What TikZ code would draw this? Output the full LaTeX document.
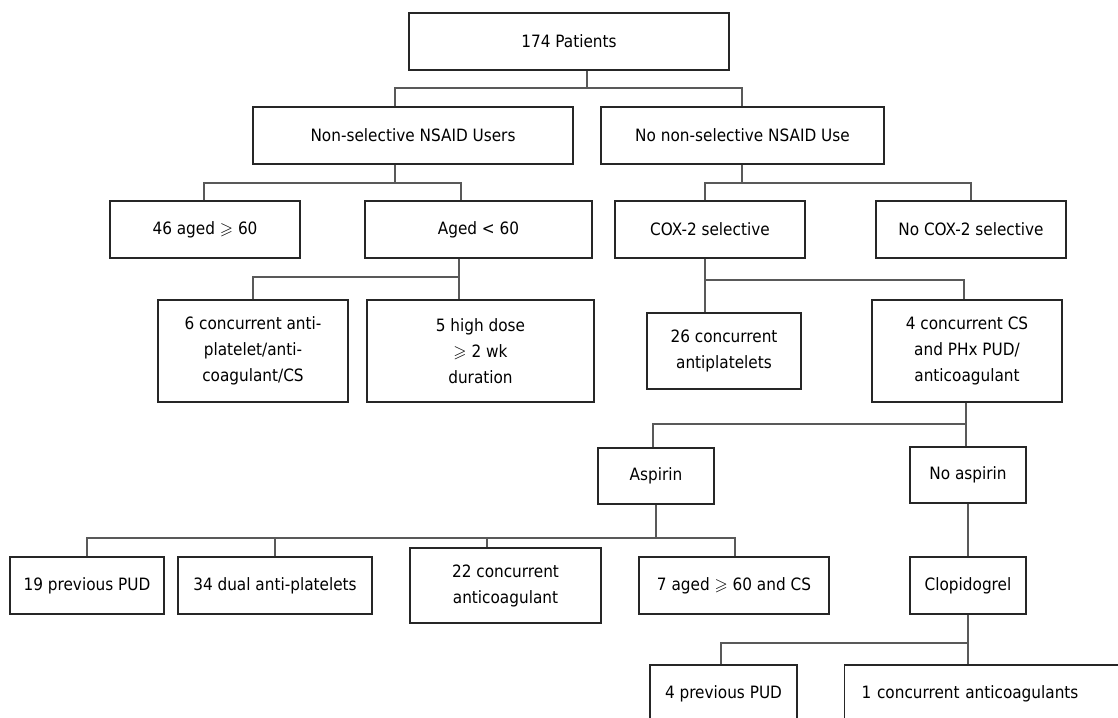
\documentclass[tikz,border=0pt]{standalone}
\usepackage{amssymb}
\usepackage{fontspec}
\setmainfont{DejaVu Sans Condensed}
\begin{document}
\begin{tikzpicture}[x=1pt, y=-1pt, thick, font=\fontsize{17}{26}\selectfont,
	box/.style={draw=black!85, line width=1.3pt, align=center, inner sep=0pt, minimum height=57pt},
	link/.style={draw=black!65, line width=1.3pt}]
	\useasboundingbox (0,0) rectangle (1118,717);
	% boxes, top to bottom
	\node[box, minimum width=320pt] (root) at (569,41.5) {174 Patients};
	\node[box, minimum width=320pt] (nsu) at (413,135.5) {Non-selective NSAID Users};
	\node[box, minimum width=283pt] (nnu) at (742.5,135.5) {No non-selective NSAID Use};
	\node[box, minimum width=190pt] (old) at (205,229.5) {46 aged $\geqslant$ 60};
	\node[box, minimum width=227pt] (young) at (478.5,229.5) {Aged < 60};
	\node[box, minimum width=190pt] (cox) at (710,229.5) {COX-2 selective};
	\node[box, minimum width=190pt] (nocox) at (971,229.5) {No COX-2 selective};
	\node[box, minimum width=190pt, minimum height=102pt] (anti) at (253,351) {6 concurrent anti-\\platelet/anti-\\coagulant/CS};
	\node[box, minimum width=227pt, minimum height=102pt] (hdose) at (480.5,351) {5 high dose\\$\geqslant$ 2 wk\\duration};
	\node[box, minimum width=154pt, minimum height=76pt] (c26) at (724,351) {26 concurrent\\antiplatelets};
	\node[box, minimum width=190pt, minimum height=102pt] (c4) at (967,351) {4 concurrent CS\\and PHx PUD/\\anticoagulant};
	\node[box, minimum width=116pt, minimum height=56pt] (asp) at (656,476) {Aspirin};
	\node[box, minimum width=116pt, minimum height=56pt] (noasp) at (968,475) {No aspirin};
	\node[box, minimum width=154pt] (pud19) at (87,585.5) {19 previous PUD};
	\node[box, minimum width=194pt] (dual) at (275,585.5) {34 dual anti-platelets};
	\node[box, minimum width=191pt, minimum height=75pt] (c22) at (505.5,585.5) {22 concurrent\\anticoagulant};
	\node[box, minimum width=190pt] (aged7) at (734,585.5) {7 aged $\geqslant$ 60 and CS};
	\node[box, minimum width=116pt] (clop) at (968,585.5) {Clopidogrel};
	\node[box, minimum width=147pt] (pud4) at (723.5,693.5) {4 previous PUD};
	\node[box, anchor=west, text width=252pt, align=left, inner xsep=17pt] (c1) at (844,693.5) {1 concurrent anticoagulants};
	% junctions
	\coordinate (j1) at (587,88);
	\coordinate (j2) at (395,183);
	\coordinate (j3) at (742,183);
	\coordinate (j4) at (459,277);
	\coordinate (j5) at (705,280);
	\coordinate (j6) at (966,424);
	\coordinate (j7) at (656,538);
	\coordinate (j8) at (968,643);
	% connectors
	\draw[link] (root.south -| j1) -- (j1);
	\draw[link] (395,0 |- nsu.north) |- (j1) -| (742,0 |- nnu.north);
	\draw[link] (nsu.south -| j2) -- (j2);
	\draw[link] (204,0 |- old.north) |- (j2) -| (461,0 |- young.north);
	\draw[link] (nnu.south -| j3) -- (j3);
	\draw[link] (705,0 |- cox.north) |- (j3) -| (nocox.north);
	\draw[link] (young.south -| j4) -- (j4);
	\draw[link] (anti.north) |- (j4) -- (hdose.north -| j4);
	\draw[link] (cox.south -| j5) -- (c26.north -| j5);
	\draw[link] (j5) -| (964,0 |- c4.north);
	\draw[link] (c4.south -| j6) -- (noasp.north -| j6);
	\draw[link] (653,0 |- asp.north) |- (j6);
	\draw[link] (asp.south -| j7) -- (j7);
	\draw[link] (pud19.north) |- (j7) -| (735,0 |- aged7.north);
	\draw[link] (dual.north) -- (dual.north |- j7);
	\draw[link] (487,0 |- c22.north) -- (487,0 |- j7);
	\draw[link] (noasp.south) -- (clop.north);
	\draw[link] (clop.south) -- (j8);
	\draw[link] (721,0 |- pud4.north) |- (j8) -- (c1.north -| j8);
\end{tikzpicture}
\end{document}
